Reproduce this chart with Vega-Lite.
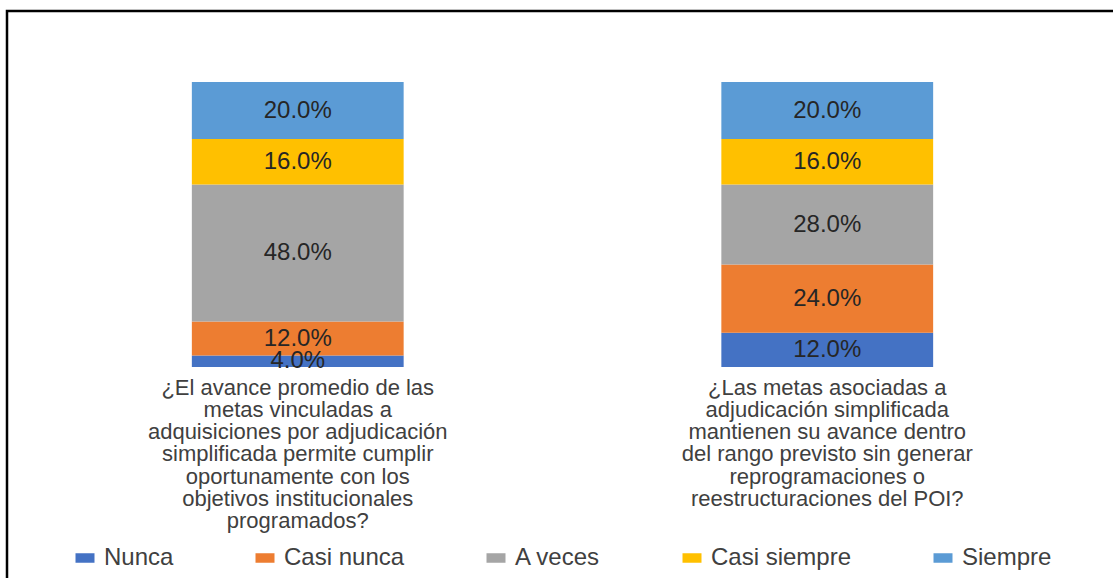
{
  "$schema": "https://vega.github.io/schema/vega-lite/v6.json",
  "width": 1106,
  "height": 567,
  "autosize": {"type": "none"},
  "padding": {"left": 7, "top": 11, "right": 1, "bottom": 1},
  "background": "white",
  "config": {
    "view": {"stroke": "#000000", "strokeWidth": 2.5, "strokeDash": [1106, 1673, 567], "fill": "white"},
    "font": "Liberation Sans"
  },
  "data": {
    "values": [
      {"q": "¿El avance promedio de las|metas vinculadas a|adquisiciones por adjudicación|simplificada permite cumplir|oportunamente con los|objetivos institucionales|programados?", "resp": "Nunca", "rank": 1, "v": 0.04},
      {"q": "¿El avance promedio de las|metas vinculadas a|adquisiciones por adjudicación|simplificada permite cumplir|oportunamente con los|objetivos institucionales|programados?", "resp": "Casi nunca", "rank": 2, "v": 0.12},
      {"q": "¿El avance promedio de las|metas vinculadas a|adquisiciones por adjudicación|simplificada permite cumplir|oportunamente con los|objetivos institucionales|programados?", "resp": "A veces", "rank": 3, "v": 0.48},
      {"q": "¿El avance promedio de las|metas vinculadas a|adquisiciones por adjudicación|simplificada permite cumplir|oportunamente con los|objetivos institucionales|programados?", "resp": "Casi siempre", "rank": 4, "v": 0.16},
      {"q": "¿El avance promedio de las|metas vinculadas a|adquisiciones por adjudicación|simplificada permite cumplir|oportunamente con los|objetivos institucionales|programados?", "resp": "Siempre", "rank": 5, "v": 0.20},
      {"q": "¿Las metas asociadas a|adjudicación simplificada|mantienen su avance dentro|del rango previsto sin generar|reprogramaciones o|reestructuraciones del POI?", "resp": "Nunca", "rank": 1, "v": 0.12},
      {"q": "¿Las metas asociadas a|adjudicación simplificada|mantienen su avance dentro|del rango previsto sin generar|reprogramaciones o|reestructuraciones del POI?", "resp": "Casi nunca", "rank": 2, "v": 0.24},
      {"q": "¿Las metas asociadas a|adjudicación simplificada|mantienen su avance dentro|del rango previsto sin generar|reprogramaciones o|reestructuraciones del POI?", "resp": "A veces", "rank": 3, "v": 0.28},
      {"q": "¿Las metas asociadas a|adjudicación simplificada|mantienen su avance dentro|del rango previsto sin generar|reprogramaciones o|reestructuraciones del POI?", "resp": "Casi siempre", "rank": 4, "v": 0.16},
      {"q": "¿Las metas asociadas a|adjudicación simplificada|mantienen su avance dentro|del rango previsto sin generar|reprogramaciones o|reestructuraciones del POI?", "resp": "Siempre", "rank": 5, "v": 0.20}
    ]
  },
  "encoding": {
    "x": {
      "field": "q",
      "type": "nominal",
      "sort": null,
      "scale": {"range": [26, 1085], "paddingInner": 0.6, "paddingOuter": 0.3},
      "axis": {
        "title": null,
        "domain": false,
        "ticks": false,
        "labelAngle": 0,
        "labelFont": "Liberation Sans",
        "labelFontSize": 22,
        "labelColor": "#404040",
        "labelLineHeight": 22.3,
        "labelPadding": 10,
        "labelLimit": 1000,
        "labelBaseline": "top",
        "labelExpr": "split(datum.label, '|')",
        "offset": -211
      }
    },
    "order": {"field": "rank", "type": "quantitative"}
  },
  "layer": [
    {
      "mark": {"type": "bar"},
      "encoding": {
        "y": {
          "field": "v",
          "type": "quantitative",
          "stack": "zero",
          "scale": {"domain": [0, 1.2], "range": [356, 14], "nice": false},
          "axis": {
            "title": null,
            "labels": false,
            "ticks": false,
            "domain": false,
            "grid": true,
            "gridColor": "#d9d9d9",
            "gridWidth": 1.5,
            "values": [0, 0.2, 0.4, 0.6, 0.8, 1.0, 1.2]
          }
        },
        "color": {
          "field": "resp",
          "type": "nominal",
          "scale": {
            "domain": ["Nunca", "Casi nunca", "A veces", "Casi siempre", "Siempre"],
            "range": ["#4472C4", "#ED7D31", "#A5A5A5", "#FFC000", "#5B9BD5"]
          },
          "legend": {
            "orient": "none",
            "legendX": 66,
            "legendY": 535,
            "direction": "horizontal",
            "title": null,
            "labelFont": "Liberation Sans",
            "labelFontSize": 24,
            "labelColor": "#404040",
            "symbolType": "M-1,-0.5H1V0.5H-1Z",
            "symbolSize": 361,
            "symbolStrokeWidth": 0,
            "columnPadding": 79,
            "labelOffset": 7
          }
        }
      }
    },
    {
      "mark": {"type": "text", "font": "Liberation Sans", "fontSize": 24, "color": "#262626", "baseline": "middle", "align": "center"},
      "encoding": {
        "y": {
          "field": "v",
          "type": "quantitative",
          "stack": "zero",
          "bandPosition": 0.5,
          "scale": {"domain": [0, 1.2], "range": [356, 14], "nice": false},
          "axis": null
        },
        "detail": {"field": "resp", "type": "nominal"},
        "text": {"field": "v", "type": "quantitative", "format": ".1%"}
      }
    }
  ]
}
